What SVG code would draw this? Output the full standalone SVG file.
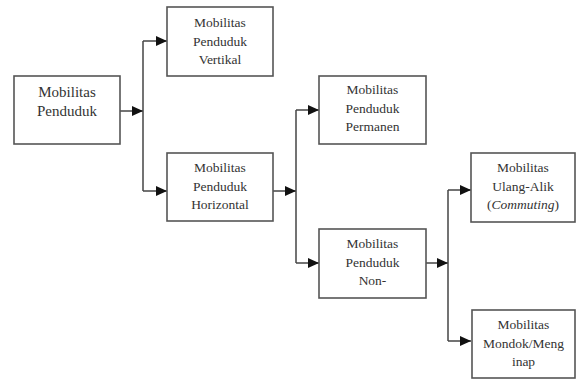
<svg xmlns="http://www.w3.org/2000/svg" width="576" height="381" viewBox="0 0 576 381">
<defs>
<marker id="ah" markerUnits="userSpaceOnUse" markerWidth="12" markerHeight="10" refX="11" refY="5" orient="auto">
<path d="M0,0 L11,5 L0,10 Z" fill="#111"/>
</marker>
<style>
.box{fill:#fff;stroke:#555;stroke-width:1.6}
.c{fill:none;stroke:#444;stroke-width:1.5}
.a{marker-end:url(#ah)}
</style>
</defs>
<rect width="576" height="381" fill="#fff"/>
<g id="connectors">
<path class="c a" d="M120,111 H143"/>
<path class="c" d="M143,41 V191"/>
<path class="c a" d="M143,41 H167"/>
<path class="c a" d="M143,191 H167"/>
<path class="c a" d="M273,191 H296"/>
<path class="c" d="M296,110 V263"/>
<path class="c a" d="M296,110 H319"/>
<path class="c a" d="M296,263 H319"/>
<path class="c a" d="M426,263 H448"/>
<path class="c" d="M448,190 V341"/>
<path class="c a" d="M448,190 H471"/>
<path class="c a" d="M448,341 H471"/>
</g>
<g font-family="Liberation Serif, DejaVu Serif, serif" font-size="13.5" fill="#333" text-anchor="middle">
<g id="n1">
<rect class="box" x="14" y="76" width="106" height="68"/>
<text x="67" y="97" font-size="15">Mobilitas</text>
<text x="67" y="116" font-size="15">Penduduk</text>
</g>
<g id="n2">
<rect class="box" x="167" y="7" width="106" height="69"/>
<text x="220" y="27">Mobilitas</text>
<text x="220" y="45.5">Penduduk</text>
<text x="220" y="64">Vertikal</text>
</g>
<g id="n3">
<rect class="box" x="167" y="153" width="106" height="68"/>
<text x="220" y="172">Mobilitas</text>
<text x="220" y="191">Penduduk</text>
<text x="220" y="209">Horizontal</text>
</g>
<g id="n4">
<rect class="box" x="319" y="76" width="107" height="68"/>
<text x="372.5" y="94">Mobilitas</text>
<text x="372.5" y="113">Penduduk</text>
<text x="372.5" y="131">Permanen</text>
</g>
<g id="n5">
<rect class="box" x="319" y="229" width="107" height="69"/>
<text x="372.5" y="248">Mobilitas</text>
<text x="372.5" y="266.5">Penduduk</text>
<text x="372.5" y="285">Non-</text>
</g>
<g id="n6">
<rect class="box" x="471" y="153" width="104" height="69"/>
<text x="523" y="172">Mobilitas</text>
<text x="523" y="190.5">Ulang-Alik</text>
<text x="523" y="209">(<tspan font-style="italic">Commuting</tspan>)</text>
</g>
<g id="n7">
<rect class="box" x="472" y="310" width="103" height="68"/>
<text x="523.5" y="329">Mobilitas</text>
<text x="523.5" y="347.5">Mondok/Meng</text>
<text x="523.5" y="366">inap</text>
</g>
</g>
</svg>
